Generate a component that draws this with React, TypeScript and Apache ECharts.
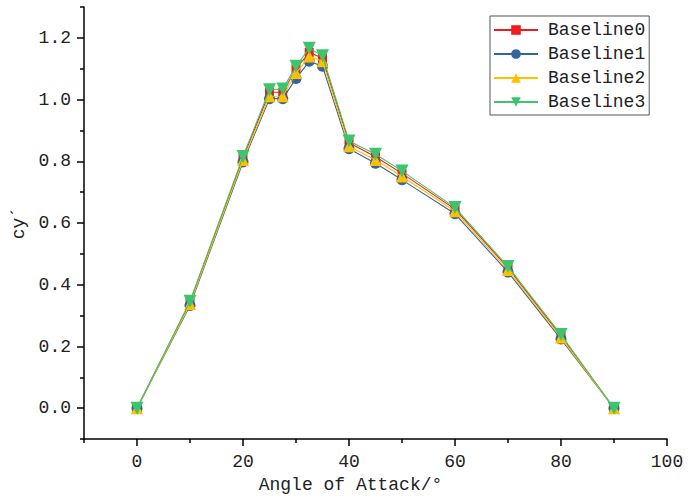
import React, { useEffect, useRef } from "react";
import * as echarts from "echarts";

const angles = [0, 10, 20, 25, 27.5, 30, 32.5, 35, 40, 45, 50, 60, 70, 80, 90];
const baseline0 = [0, 0.342, 0.81, 1.024, 1.024, 1.1, 1.153, 1.134, 0.86, 0.815, 0.761, 0.645, 0.455, 0.234, 0];
const baseline1 = [0, 0.333, 0.798, 1.003, 1.003, 1.068, 1.124, 1.108, 0.841, 0.794, 0.74, 0.63, 0.441, 0.224, 0];
const baseline2 = [0, 0.338, 0.804, 1.011, 1.011, 1.086, 1.14, 1.124, 0.849, 0.804, 0.751, 0.638, 0.448, 0.229, 0];
const baseline3 = [0, 0.347, 0.816, 1.032, 1.034, 1.108, 1.166, 1.142, 0.866, 0.823, 0.769, 0.65, 0.459, 0.239, 0];
const seriesNames = ["Baseline0", "Baseline1", "Baseline2", "Baseline3"];
const xMajorTicks = [0, 20, 40, 60, 80, 100];
const xMinorTicks = [-10, 10, 30, 50, 70, 90];
const yMajorTicks = [0, 0.2, 0.4, 0.6, 0.8, 1.0, 1.2];
const yMinorTicks = [-0.1, 0.1, 0.3, 0.5, 0.7, 0.9, 1.1, 1.3];

const FONT = "'Liberation Mono', monospace";
const TXT = "#222";

export default function App() {
  const ref = useRef<HTMLDivElement>(null);
  useEffect(() => {
    if (!ref.current) return;
    const chart = echarts.init(ref.current, undefined, { renderer: "svg" });
    const all = [baseline0, baseline1, baseline2, baseline3];
    const colors = ["#f21a1a", "#34659e", "#ffc000", "#3dc46c"];
    const symbols = ["rect", "circle", "triangle", "triangle"];
    const sizes = [9, 11, 12, 13];
    const rotates = [0, 0, 0, 180];
    const axisLine = { show: true, onZero: false, lineStyle: { color: "#000", width: 1.5 } };
    chart.setOption({
      animation: false,
      grid: { left: 84, right: 21, top: 7, bottom: 58, containLabel: false },
      legend: {
        orient: "vertical",
        left: 490,
        top: 16,
        padding: [5, 4, 4, 3],
        itemWidth: 44,
        itemHeight: 12,
        itemGap: 6,
        borderColor: "#555",
        borderWidth: 1,
        textStyle: { fontFamily: FONT, fontSize: 18, color: TXT, padding: [0, 0, 0, 5] },
        data: seriesNames,
      },
      xAxis: [
        {
          type: "value",
          min: -10,
          max: 100,
          position: "bottom",
          name: "Angle of Attack/°",
          nameLocation: "middle",
          nameGap: 36,
          nameTextStyle: { fontFamily: FONT, fontSize: 18, color: TXT, padding: [0, 50, 0, 0] },
          axisLine,
          splitLine: { show: false },
          axisTick: { show: true, customValues: xMajorTicks, length: 7, lineStyle: { color: "#000", width: 1.5 } },
          axisLabel: { customValues: xMajorTicks, margin: 14, fontFamily: FONT, fontSize: 18, color: TXT },
        },
        {
          type: "value",
          min: -10,
          max: 100,
          position: "bottom",
          axisLine: { show: false, onZero: false },
          splitLine: { show: false },
          axisTick: { show: true, customValues: xMinorTicks, length: 4, lineStyle: { color: "#000", width: 1.5 } },
          axisLabel: { show: false },
        },
      ],
      yAxis: [
        {
          type: "value",
          min: -0.1,
          max: 1.3,
          position: "left",
          name: "cy´",
          nameLocation: "middle",
          nameGap: 49,
          nameTextStyle: { fontFamily: FONT, fontSize: 18, color: TXT },
          axisLine,
          splitLine: { show: false },
          axisTick: { show: true, customValues: yMajorTicks, length: 7, lineStyle: { color: "#000", width: 1.5 } },
          axisLabel: {
            customValues: yMajorTicks,
            margin: 13,
            fontFamily: FONT,
            fontSize: 18,
            color: TXT,
            formatter: (v: number) => v.toFixed(1),
          },
        },
        {
          type: "value",
          min: -0.1,
          max: 1.3,
          position: "left",
          axisLine: { show: false, onZero: false },
          splitLine: { show: false },
          axisTick: { show: true, customValues: yMinorTicks, length: 4, lineStyle: { color: "#000", width: 1.5 } },
          axisLabel: { show: false },
        },
      ],
      series: all.map((vals, i) => ({
        name: seriesNames[i],
        type: "line",
        xAxisIndex: 0,
        yAxisIndex: 0,
        data: angles.map((a, j) => [a, vals[j]]),
        symbol: symbols[i],
        symbolSize: sizes[i],
        symbolRotate: rotates[i],
        showAllSymbol: true,
        itemStyle: { color: colors[i] },
        lineStyle: { color: colors[i], width: 1.1 },
        z: 2 + i,
      })),
    });
    return () => chart.dispose();
  }, []);
  return <div ref={ref} style={{ width: 688, height: 499, position: "absolute", left: 0, top: 0 }} />;
}
